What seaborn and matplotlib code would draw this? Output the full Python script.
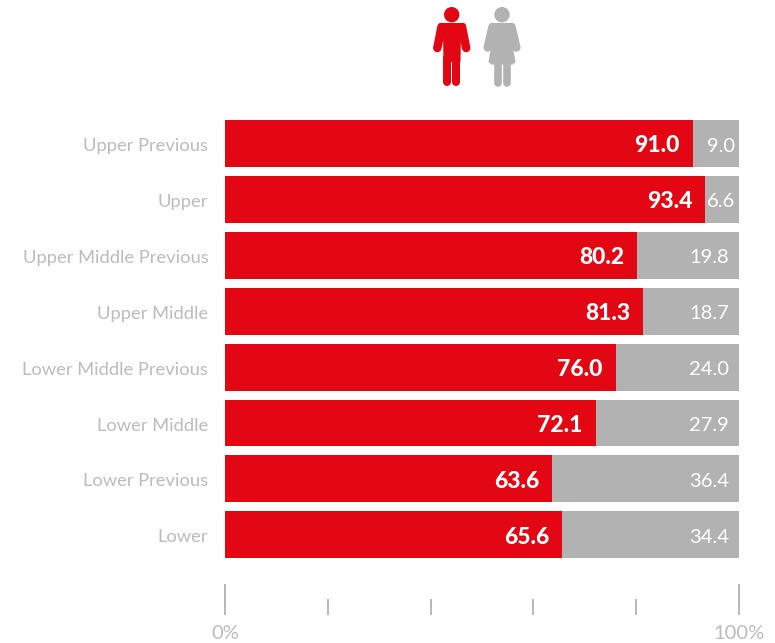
import matplotlib
matplotlib.use("Agg")
import matplotlib.pyplot as plt
import numpy as np
import pandas as pd
import seaborn as sns
from matplotlib.patches import Circle, Polygon
from matplotlib.transforms import ScaledTranslation

RED = "#e30613"
GREY = "#b2b2b2"
LABEL = "#bcbcbc"
FONT = ["Lato", "DejaVu Sans"]

categories = ["Upper Previous", "Upper", "Upper Middle Previous", "Upper Middle",
              "Lower Middle Previous", "Lower Middle", "Lower Previous", "Lower"]
male = [91.0, 93.4, 80.2, 81.3, 76.0, 72.1, 63.6, 65.6]
female = [9.0, 6.6, 19.8, 18.7, 24.0, 27.9, 36.4, 34.4]
tick_values = [0, 20, 40, 60, 80, 100]
tick_labels = ["0%", "", "", "", "", "100%"]

W, H = 775, 643
PX = 72 / 100  # points per pixel at 100 dpi

df = pd.DataFrame({"category": categories, "male": male, "female": female})
df["total"] = df["male"] + df["female"]

sns.set_theme(style="white")
plt.rcParams["font.family"] = FONT

fig = plt.figure(figsize=(W / 100, H / 100), dpi=100)
top, bottom, left, right = 115, 615, 225, 739
ax = fig.add_axes([left / W, 1 - bottom / H, (right - left) / W, (bottom - top) / H])

# Stacked shares: the full bar in grey, the male share over it in red
sns.barplot(data=df, y="category", x="total", color=GREY, width=0.84,
            saturation=1, linewidth=0, ax=ax, orient="h")
sns.barplot(data=df, y="category", x="male", color=RED, width=0.84,
            saturation=1, linewidth=0, ax=ax, orient="h")

pitch = 55.9
ax.set_ylim((bottom - 143.5) / pitch, (top - 143.5) / pitch)
ax.set_xlim(0, 100)
ax.set_xlabel("")
ax.set_ylabel("")
sns.despine(ax=ax, left=True, bottom=True, top=True, right=True)

ax.set_xticks(tick_values)
ax.set_xticklabels(tick_labels, color=LABEL, fontsize=14.5)
ax.tick_params(axis="x", direction="in", length=16 * PX, width=1.8 * PX,
               color=GREY, pad=7, bottom=True)
for tick, value in zip(ax.xaxis.get_major_ticks(), tick_values):
    if value in (0, 100):
        tick.tick1line.set_markersize(31 * PX)

ax.tick_params(axis="y", length=0, pad=12)
label_shift = ScaledTranslation(0, -1 / 100, fig.dpi_scale_trans)
for lab in ax.get_yticklabels():
    lab.set_color(LABEL)
    lab.set_fontsize(13.2)
    lab.set_transform(lab.get_transform() + label_shift)

for i, (m, f) in enumerate(zip(male, female)):
    ax.annotate(f"{m:.1f}", (m, i), xytext=(-13 * PX, -2.5 * PX), textcoords="offset points",
                ha="right", va="center", color="white", fontsize=16.5, fontweight="black")
    pad = 10 if f >= 10 else 4
    ax.annotate(f"{f:.1f}", (100, i), xytext=(-pad * PX, -2.5 * PX), textcoords="offset points",
                ha="right", va="center", color="white", fontsize=14.5)

# Pictograms above the bars, laid out in figure pixels
icons = fig.add_axes([0, 0, 1, 1], facecolor="none")
icons.set_xlim(0, W)
icons.set_ylim(H, 0)
icons.axis("off")


def stroke(xs, ys, color, width=8):
    icons.plot(xs, ys, color=color, lw=width * PX, solid_capstyle="round")


# Man
icons.add_patch(Circle((451.7, 14.7), 7.7, color=RED, lw=0))
icons.add_patch(Polygon([(440, 23), (464, 23), (466, 25), (461, 34), (460.5, 62),
                         (443.5, 62), (443, 34), (438, 25)],
                        closed=True, color=RED, lw=0))
stroke([441.5, 437.3], [27, 48], RED, 8.5)
stroke([462, 466.2], [27, 48], RED, 8.5)
stroke([447.3, 447.3], [58, 82], RED, 8)
stroke([456.2, 456.2], [58, 82], RED, 8)

# Woman
icons.add_patch(Circle((502, 14.7), 7.7, color=GREY, lw=0))
icons.add_patch(Polygon([(492, 23), (512, 23), (514, 25), (511, 36), (515.5, 62),
                         (513, 64.5), (491, 64.5), (488.5, 62), (493, 36), (490, 25)],
                        closed=True, color=GREY, lw=0))
stroke([492.5, 487.7], [27, 47.5], GREY, 8.5)
stroke([511.5, 516.3], [27, 47.5], GREY, 8.5)
stroke([498, 498], [60, 82.5], GREY, 7.6)
stroke([506.7, 506.7], [60, 82.5], GREY, 7.6)

fig.savefig("out.png", dpi=100)
